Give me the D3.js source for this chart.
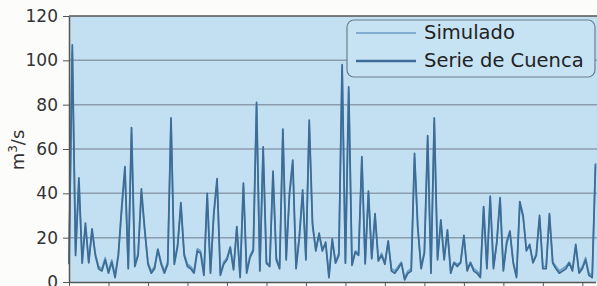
<!DOCTYPE html>
<html>
<head>
<meta charset="utf-8">
<script src="https://cdn.jsdelivr.net/npm/d3@7"></script>
<style>
  body { margin: 0; background: #fcfcfb; }
  svg { display: block; }
  .tick text { font-family: "DejaVu Sans", sans-serif; font-size: 17px; fill: #333; }
</style>
</head>
<body>
<svg id="chart" width="597" height="286"></svg>
<script>
// monthly discharge, m3/s
const cuenca = [
  8, 107, 12, 47, 8.5, 26.6, 8.6, 24, 12, 6,
  5, 10, 4, 9, 2, 12, 33.5, 52, 6, 69.6,
  7, 12, 42, 24, 8, 4, 6, 14.6, 8, 4,
  8, 74, 8, 16, 35.8, 12, 7, 6, 4, 14,
  13, 3, 40, 4, 31, 46.6, 3, 8, 10, 15.5,
  5.5, 25, 2, 44.6, 4, 11, 14, 81, 5, 61,
  8.4, 7, 50, 10, 6, 69, 10, 40, 55, 6,
  20, 41.6, 10, 73, 26.6, 14, 22, 14, 18, 2,
  19.5, 8.5, 12, 98, 8.5, 88, 7.5, 13.5, 12, 56.5,
  8.2, 41, 10.5, 30.8, 9.5, 12, 8, 18.5, 5, 4,
  6, 8.5, 1, 4, 5, 58, 24.5, 6, 13, 66,
  4, 74, 10, 28, 10, 23.5, 4, 8.6, 7, 8.6,
  21, 5, 8.6, 5, 4, 2, 34, 6, 38.7, 6,
  18, 38, 5, 18, 23, 8.6, 2, 36.3, 30, 14,
  17, 8.6, 12, 30, 6, 6, 30.8, 8.6, 6, 4,
  5, 6, 8.6, 5, 17, 4, 6, 10, 3, 2,
  53.5
];
const simulado = [
  9, 104, 14, 45, 10, 25, 9, 23, 13, 7,
  6, 11, 5, 10, 3, 13, 32, 50, 7, 67,
  8, 13, 40, 23, 9, 5, 7, 15, 9, 5,
  9, 72, 9, 17, 34, 13, 8, 7, 5, 15,
  14, 4, 38, 5, 30, 45, 4, 9, 11, 16,
  6, 24, 3, 43, 5, 12, 15, 79, 6, 59,
  9, 8, 48, 11, 7, 67, 11, 39, 53, 7,
  21, 40, 11, 71, 25, 15, 21, 15, 17, 3,
  18.5, 9, 13, 96, 9, 86, 8, 14, 13, 55,
  9, 40, 11, 29.5, 10, 13, 9, 18, 6, 5,
  7, 9, 2, 5, 6, 56, 24, 7, 14, 64,
  5, 72, 11, 27, 11, 22.5, 5, 9, 8, 9,
  20, 6, 9, 6, 5, 3, 33, 7, 37.5, 7,
  17.5, 37, 6, 17, 22, 9, 3, 35, 29, 15,
  16, 9, 13, 29, 7, 7, 30, 9, 7, 5,
  6, 7, 9, 6, 16, 5, 7, 11, 4, 3,
  52
];
const yTicks = [0, 20, 40, 60, 80, 100, 120];
const yearTicks = d3.range(0, 161, 12);
const seriesNames = ["Simulado", "Serie de Cuenca"];

const plotLeft = 69, plotRight = 597, plotTop = 16, plotBottom = 282;
const svg = d3.select("#chart");

const x = d3.scaleLinear([0, 160], [plotLeft, 595.5]);
const y = d3.scaleLinear([0, 120], [plotBottom, plotTop]);

// plot background
svg.append("rect")
  .attr("x", plotLeft).attr("y", plotTop)
  .attr("width", plotRight - plotLeft).attr("height", plotBottom - plotTop)
  .attr("fill", "#c2e0f2");

// gridlines
svg.append("g")
  .selectAll("line")
  .data(yTicks.filter(d => d > 0 && d < 120))
  .enter().append("line")
    .attr("x1", plotLeft).attr("x2", plotRight)
    .attr("y1", d => y(d)).attr("y2", d => y(d))
    .attr("stroke", "#8b9cad")
    .attr("stroke-width", 1.5);

// top border
svg.append("line")
  .attr("x1", plotLeft).attr("x2", plotRight)
  .attr("y1", plotTop).attr("y2", plotTop)
  .attr("stroke", "#555").attr("stroke-width", 1.5);

// lines
const line = d3.line()
  .x((d, i) => x(i))
  .y(d => y(d));

svg.append("path")
  .datum(simulado)
  .attr("d", line)
  .attr("fill", "none")
  .attr("stroke", "#6a9cc4")
  .attr("stroke-width", 1.6)
  .attr("stroke-linejoin", "round");

svg.append("path")
  .datum(cuenca)
  .attr("d", line)
  .attr("fill", "none")
  .attr("stroke", "#3d6d96")
  .attr("stroke-width", 1.8)
  .attr("stroke-linejoin", "round");

// axes
const yAxis = svg.append("g")
  .attr("transform", `translate(${plotLeft},0)`)
  .call(d3.axisLeft(y).tickValues(yTicks).tickSize(6).tickPadding(5).tickSizeOuter(0));
yAxis.select(".domain").attr("stroke", "#555").attr("stroke-width", 1.5);
yAxis.selectAll(".tick line").attr("stroke", "#555");

const xAxis = svg.append("g")
  .attr("transform", `translate(0,${plotBottom})`)
  .call(d3.axisBottom(x).tickValues(yearTicks).tickFormat("").tickSize(5).tickSizeOuter(0));
xAxis.select(".domain").attr("stroke", "#555").attr("stroke-width", 1.5);
xAxis.selectAll(".tick line").attr("stroke", "#555");

// Y-axis label
const yl = svg.append("text")
  .attr("transform", "rotate(-90)")
  .attr("x", -150)
  .attr("y", 24)
  .attr("text-anchor", "middle")
  .attr("font-family", "DejaVu Sans, sans-serif")
  .attr("font-size", 18)
  .attr("fill", "#333");
yl.append("tspan").text("m");
yl.append("tspan").attr("dy", -7).attr("font-size", 12).text("3");
yl.append("tspan").attr("dy", 7).text("/s");

// legend
const legend = svg.append("g");
legend.append("rect")
  .attr("x", 347).attr("y", 20)
  .attr("width", 248).attr("height", 57)
  .attr("rx", 7)
  .attr("fill", "#c6e3f4")
  .attr("stroke", "#6b7d8d")
  .attr("stroke-width", 1.2);

const legendStyles = [
  { color: "#6a9cc4", width: 1.6 },
  { color: "#3d6d96", width: 2.4 }
];
seriesNames.forEach((name, i) => {
  const ly = 33 + i * 28;
  legend.append("line")
    .attr("x1", 356).attr("x2", 416)
    .attr("y1", ly).attr("y2", ly)
    .attr("stroke", legendStyles[i].color)
    .attr("stroke-width", legendStyles[i].width);
  legend.append("text")
    .attr("x", 424).attr("y", ly)
    .attr("dominant-baseline", "middle")
    .attr("font-family", "DejaVu Sans, sans-serif")
    .attr("font-size", 19.5)
    .attr("fill", "#222")
    .text(name);
});
</script>
</body>
</html>
